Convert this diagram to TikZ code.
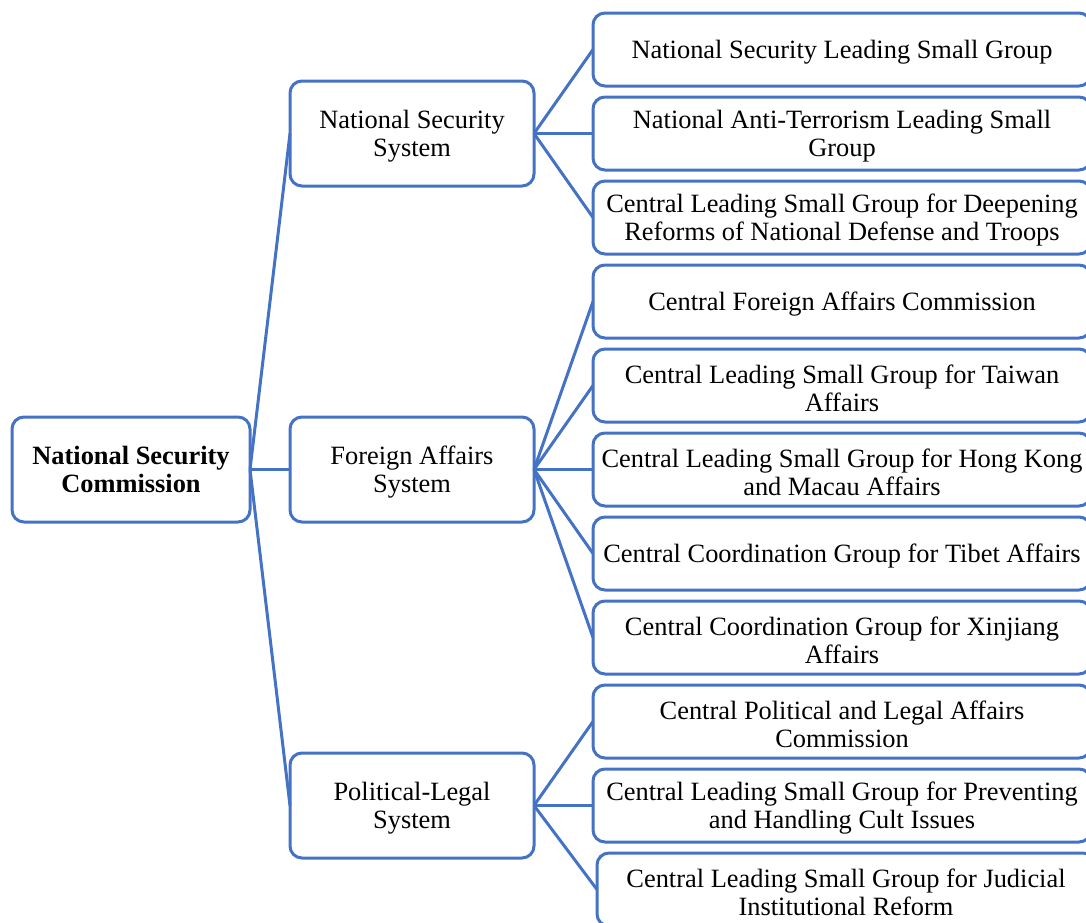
\documentclass[tikz,border=0pt]{standalone}
\usepackage{fontspec}
\setmainfont{Liberation Serif}
\usetikzlibrary{positioning, chains}
\definecolor{secblue}{RGB}{68,114,196}
\newcommand{\lift}{\rule{0pt}{12pt}}

\begin{document}
\begin{tikzpicture}[
    x = 0.5pt, y = -0.5pt,
    node distance = 5.5pt and 29.5pt,
    start chain = going below,
    card/.style = {rectangle, rounded corners=6pt, draw=secblue, line width=1.5pt, outer sep=0pt, inner sep=0pt, align=center, font=\fontsize{13.2}{14}\selectfont},
    commission/.style = {card, minimum width=119pt, minimum height=52.5pt, font=\fontsize{13.2}{14}\selectfont\bfseries},
    system/.style = {card, minimum width=122pt, minimum height=52.5pt},
    group/.style = {card, on chain, minimum width=249pt, minimum height=36.5pt},
    link/.style = {draw=secblue, line width=1.5pt}
]
    \useasboundingbox (0,0) rectangle (1086,922);

% Groups
    \node[group, anchor=north west] at (593,13) (g1) {\lift National Security Leading Small Group};
    \node[group] (g2) {\lift National Anti-Terrorism Leading Small\\Group};
    \node[group] (g3) {\lift Central Leading Small Group for Deepening\\Reforms of National Defense and Troops};
    \node[group] (g4) {\lift Central Foreign Affairs Commission};
    \node[group] (g5) {\lift Central Leading Small Group for Taiwan\\Affairs};
    \node[group] (g6) {\lift Central Leading Small Group for Hong Kong\\and Macau Affairs};
    \node[group] (g7) {\lift Central Coordination Group for Tibet Affairs};
    \node[group] (g8) {\lift Central Coordination Group for Xinjiang\\Affairs};
    \node[group] (g9) {\lift Central Political and Legal Affairs\\Commission};
    \node[group] (g10) {\lift Central Leading Small Group for Preventing\\and Handling Cult Issues};
    \node[group, xshift=2pt] (g11) {\lift Central Leading Small Group for Judicial\\Institutional Reform};

% Systems
    \node[system, left=of g2] (security) {\lift National Security\\System};
    \node[system, left=of g6] (foreign) {\lift Foreign Affairs\\System};
    \node[system, left=of g10] (legal) {\lift Political-Legal\\System};

% Commission
    \node[commission, left=20pt of foreign] (nsc) {National Security\\Commission};

% Links
    \draw[link] (nsc.east) -- (security.west);
    \draw[link] (nsc.east) -- (foreign.west);
    \draw[link] (nsc.east) -- (legal.west);
    \draw[link] (security.east) -- (g1.west);
    \draw[link] (security.east) -- (g2.west);
    \draw[link] (security.east) -- (g3.west);
    \draw[link] (foreign.east) -- (g4.west);
    \draw[link] (foreign.east) -- (g5.west);
    \draw[link] (foreign.east) -- (g6.west);
    \draw[link] (foreign.east) -- (g7.west);
    \draw[link] (foreign.east) -- (g8.west);
    \draw[link] (legal.east) -- (g9.west);
    \draw[link] (legal.east) -- (g10.west);
    \draw[link] (legal.east) -- (g11.west);
\end{tikzpicture}
\end{document}
